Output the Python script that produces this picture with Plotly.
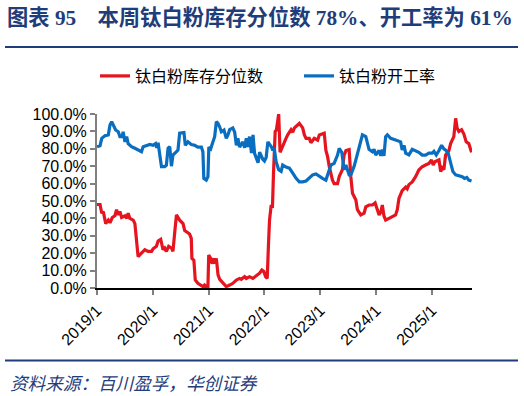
import plotly.graph_objects as go

# ---------------- data ----------------
inv_dates = [
    "2019-01-01","2019-01-21","2019-02-01","2019-02-11","2019-02-27","2019-03-16","2019-03-27",
    "2019-04-11","2019-04-28","2019-05-09","2019-05-20","2019-05-31","2019-06-11","2019-07-03",
    "2019-07-14","2019-07-24","2019-08-04","2019-08-26","2019-09-06","2019-09-17","2019-09-27",
    "2019-10-19","2019-11-10","2019-12-01","2019-12-24","2020-01-03","2020-01-25","2020-02-05",
    "2020-02-22","2020-03-08","2020-03-19","2020-03-30","2020-04-14","2020-05-02","2020-05-12",
    "2020-05-23","2020-06-04","2020-06-25","2020-07-17","2020-07-28","2020-08-10","2020-08-29",
    "2020-09-09","2020-09-13","2020-09-26","2020-10-05","2020-10-22","2020-11-14","2020-11-24",
    "2020-12-05","2020-12-16","2020-12-27","2021-01-01","2021-01-14","2021-01-23","2021-02-05",
    "2021-02-11","2021-02-20","2021-03-03","2021-03-14","2021-04-04","2021-04-15","2021-04-26",
    "2021-05-18","2021-06-08","2021-07-01","2021-07-22","2021-08-02","2021-08-24","2021-09-04",
    "2021-09-25","2021-10-17","2021-11-08","2021-11-30","2021-12-15","2021-12-28","2022-01-08",
    "2022-01-19","2022-01-27","2022-02-03","2022-02-14","2022-02-22","2022-03-01","2022-03-12",
    "2022-03-20","2022-04-04","2022-04-13","2022-04-30","2022-05-22","2022-06-02","2022-06-13",
    "2022-06-24","2022-07-05","2022-07-16","2022-08-06","2022-08-17","2022-09-08","2022-09-19",
    "2022-09-30","2022-10-21","2022-11-01","2022-11-23","2022-12-15","2022-12-26","2023-01-27",
    "2023-02-07","2023-02-18","2023-03-01","2023-03-22","2023-04-02","2023-04-24","2023-05-05",
    "2023-05-26","2023-06-06","2023-06-18","2023-07-09","2023-07-20","2023-07-31","2023-08-22",
    "2023-09-01","2023-09-23","2023-10-15","2023-10-26","2023-11-16","2023-12-08","2023-12-26",
    "2024-01-06","2024-01-21","2024-02-01","2024-02-11","2024-02-22","2024-03-04","2024-03-26",
    "2024-04-16","2024-05-08","2024-05-19","2024-05-30","2024-06-20","2024-07-13","2024-07-23",
    "2024-08-03","2024-08-25","2024-09-16","2024-10-07","2024-10-29","2024-11-20","2024-12-12",
    "2024-12-29","2025-01-09","2025-01-20","2025-02-16","2025-02-27","2025-03-09","2025-03-20",
    "2025-03-31","2025-04-22","2025-05-03","2025-05-24","2025-06-05","2025-06-15","2025-06-26",
    "2025-07-14","2025-07-29","2025-08-13","2025-08-30","2025-09-17",
]
inv_pct = [
    48, 48, 43, 44, 37, 39, 37.5,
    40.5, 41.5, 45, 42, 44, 40.5, 41.5,
    40, 43, 40, 39, 37, 28.5, 18,
    20, 22, 21, 21, 22.5, 24, 27,
    28, 22, 23, 21, 24, 23, 21,
    31.4, 42, 39, 37, 33, 32, 31,
    28.5, 17, 16, 4.6, 2.7, 1.7, 0.8,
    1.7, 0.8, 0.8, 19, 17, 14, 17,
    14, 17, 7.5, 5, 3, 1.7, 0.8,
    1.7, 2.7, 4.6, 5.5, 5, 6.5, 5.5,
    6.5, 5.5, 7, 8.5, 10.3, 9.5, 6.5,
    5.5, 24.7, 39, 47.7, 46, 66, 90,
    90.8, 100, 78, 82, 86, 88, 90,
    91, 89.5, 92, 93.7, 94.6, 92, 88,
    86, 86, 83.5, 86, 85, 88, 89,
    79, 75.5, 69.7, 62, 60, 60, 64,
    68, 76.4, 79, 79.5, 64, 54.4, 50.6,
    45, 42, 43, 46.7, 47.7, 47.7, 48.9,
    46, 42, 43.5, 47.7, 41.4, 39, 40,
    41, 42, 45, 51.5, 56, 58, 57,
    59.4, 61, 64, 67.8, 69.7, 70.7, 71.6,
    73.6, 70.7, 72.5, 73.6, 66.9, 69, 68,
    76.4, 79, 83, 87, 97.5, 91.8, 90,
    91, 88.5, 84, 83, 78,
]

run_dates = [
    "2019-01-01","2019-01-21","2019-02-01","2019-02-22","2019-03-16","2019-03-27","2019-04-07",
    "2019-04-17","2019-05-03","2019-05-20","2019-05-31","2019-06-15","2019-06-21","2019-07-03",
    "2019-07-14","2019-07-24","2019-08-15","2019-09-06","2019-09-27","2019-10-19","2019-10-30",
    "2019-11-21","2019-12-13","2020-01-03","2020-01-19","2020-01-27","2020-02-05","2020-02-16",
    "2020-02-27","2020-03-19","2020-03-30","2020-04-10","2020-04-21","2020-05-02","2020-05-12",
    "2020-06-04","2020-06-14","2020-06-25","2020-07-23","2020-08-01","2020-08-18","2020-09-09",
    "2020-10-01","2020-10-22","2020-11-14","2020-11-24","2020-11-30","2020-12-16","2020-12-27",
    "2021-01-02","2021-01-14","2021-01-29","2021-02-09","2021-02-20","2021-03-03","2021-03-14",
    "2021-03-25","2021-04-11","2021-04-26","2021-05-07","2021-05-18","2021-06-08","2021-06-20",
    "2021-07-01","2021-07-11","2021-07-22","2021-08-13","2021-08-24","2021-09-04","2021-09-14",
    "2021-09-25","2021-10-08","2021-10-18","2021-10-28","2021-11-10","2021-11-20","2021-11-30",
    "2021-12-09","2021-12-21","2022-01-01","2022-01-12","2022-01-23","2022-02-03","2022-02-16",
    "2022-02-22","2022-03-07","2022-03-18","2022-04-04","2022-04-20","2022-04-30","2022-05-22",
    "2022-06-13","2022-07-05","2022-07-27","2022-08-17","2022-09-08","2022-09-30","2022-10-21",
    "2022-11-12","2022-12-04","2022-12-26","2023-01-16","2023-02-07","2023-03-01","2023-03-12",
    "2023-04-02","2023-04-24","2023-05-05","2023-05-22","2023-06-06","2023-06-18","2023-07-09",
    "2023-07-20","2023-08-11","2023-09-01","2023-09-23","2023-10-04","2023-10-26","2023-11-05",
    "2023-11-16","2023-12-08","2023-12-19","2023-12-30","2024-01-09","2024-01-21","2024-02-01",
    "2024-02-11","2024-02-22","2024-03-04","2024-03-15","2024-04-06","2024-05-08","2024-06-10",
    "2024-06-20","2024-07-02","2024-07-13","2024-08-03","2024-08-25","2024-09-16","2024-10-07",
    "2024-10-29","2024-11-20","2024-12-12","2025-01-03","2025-01-14","2025-01-29","2025-02-16",
    "2025-03-05","2025-03-20","2025-04-04","2025-04-17","2025-05-03","2025-05-18","2025-06-05",
    "2025-06-26","2025-07-18","2025-08-02","2025-08-17","2025-08-30","2025-09-17",
]
run_pct = [
    81.2, 81.8, 86, 87.5, 88, 93.7, 95.6,
    94, 90.8, 89.8, 87, 87, 89.8, 84,
    87, 83, 81.2, 80.3, 79.3, 78.3, 81.2,
    82, 82.5, 82, 83, 80.6, 83.5, 76.4,
    69.7, 69.7, 70.6, 80.3, 81.2, 70, 76.4,
    78.3, 79.3, 89, 89.3, 82, 84, 82.5,
    82, 81, 81, 78.3, 63, 62, 64,
    81, 80, 84, 87, 95.6, 94.6, 92.5,
    89.8, 90.8, 86, 88, 91, 92, 89.5,
    82, 86, 81, 84, 80.6, 86, 81,
    87, 77.5, 88, 77.4, 74.5, 72, 78,
    76, 74, 73, 75, 84, 82.8, 81,
    79.7, 79.7, 72.6, 68, 67, 70.7, 69.5,
    68.9, 66, 63, 61, 61, 61.5, 63,
    65, 65.5, 64, 63, 62, 68, 70.7,
    71.6, 76.4, 80.3, 78, 68, 70.7, 65,
    65, 70, 76.4, 84, 88, 87, 83,
    79.7, 78.3, 79.7, 76.4, 78, 79, 76,
    79.5, 76, 87, 88, 86, 85, 84,
    79.3, 82, 77.5, 76.5, 79.7, 79, 78,
    76.4, 76.4, 77.5, 77.5, 78.5, 76.4, 79,
    82, 80, 79, 77.5, 72.6, 66.9, 65,
    64.5, 64, 63, 63.5, 62, 61.5,
]

series_names = ["钛白粉库存分位数", "钛白粉开工率"]
title_text = "图表 95　本周钛白粉库存分位数 78%、开工率为 61%"
source_text = "资料来源：百川盈孚，华创证券"

# ---------------- layout constants ----------------
W, H = 524, 396
L, R, T, B = 97, 472, 114, 288  # plot area in pixels
NAVY = "#1F3D7A"
RED = "#E5141F"
BLUE = "#0A6EC0"
FONT = "Liberation Sans, Arial, Noto Sans CJK SC, sans-serif"


def px_x(p):
    return (p - L) / (R - L)


def px_y(p):
    return (B - p) / (B - T)


fig = go.Figure()
fig.add_trace(go.Scatter(x=inv_dates, y=inv_pct, mode="lines", name=series_names[0],
                         line=dict(color=RED, width=3.2)))
fig.add_trace(go.Scatter(x=run_dates, y=run_pct, mode="lines", name=series_names[1],
                         line=dict(color=BLUE, width=3.2)))

fig.update_layout(
    width=W, height=H,
    margin=dict(l=L, r=W - R, t=T, b=H - B, pad=0, autoexpand=False),
    paper_bgcolor="white", plot_bgcolor="white",
    font=dict(family=FONT, size=16, color="#000000"),
    showlegend=True,
    legend=dict(orientation="h", x=px_x(95), xanchor="left", y=px_y(76), yanchor="middle",
                font=dict(size=16, color="#000000"), bgcolor="rgba(0,0,0,0)",
                entrywidth=159, entrywidthmode="pixels", itemwidth=30, tracegroupgap=0),
    title=dict(text="<b>" + title_text + "</b>", x=7 / W, xanchor="left", xref="container",
               y=1 - 18 / H, yanchor="middle", yref="container",
               font=dict(family="Liberation Serif, Times New Roman, Noto Sans CJK SC, serif",
                         size=21.3, color=NAVY)),
    xaxis=dict(type="date", range=["2019-01-01", "2025-09-20"], automargin=False,
               tick0="2019-01-01", dtick="M12", tickformat="%Y/%-m",
               tickangle=-45, showgrid=False, zeroline=False,
               showline=True, linecolor="#000000", linewidth=1.5,
               ticks="outside", ticklen=5, tickcolor="#808080", tickwidth=1.5,
               tickfont=dict(size=16, color="#000000")),
    yaxis=dict(range=[0, 100], dtick=10, tick0=0, tickformat=".1f", ticksuffix="%",
               automargin=False, showgrid=False, zeroline=False,
               showline=True, linecolor="#808080", linewidth=2,
               ticks="outside", ticklen=5, tickcolor="#808080", tickwidth=1.5,
               tickfont=dict(size=16, color="#000000")),
    shapes=[
        dict(type="line", xref="paper", yref="paper", x0=px_x(5), x1=px_x(518),
             y0=px_y(47), y1=px_y(47), line=dict(color=NAVY, width=2)),
        dict(type="line", xref="paper", yref="paper", x0=px_x(5), x1=px_x(518),
             y0=px_y(360.5), y1=px_y(360.5), line=dict(color=NAVY, width=2)),
    ],
    annotations=[
        dict(text="<i>" + source_text + "</i>", xref="paper", yref="paper",
             x=px_x(8), y=px_y(382), xanchor="left", yanchor="middle", showarrow=False,
             font=dict(family="Noto Sans CJK SC, sans-serif", size=17.6, color=NAVY)),
    ],
)

fig.write_html("out.html", config={"displayModeBar": False},
               post_script="document.body.style.margin='0px';")
